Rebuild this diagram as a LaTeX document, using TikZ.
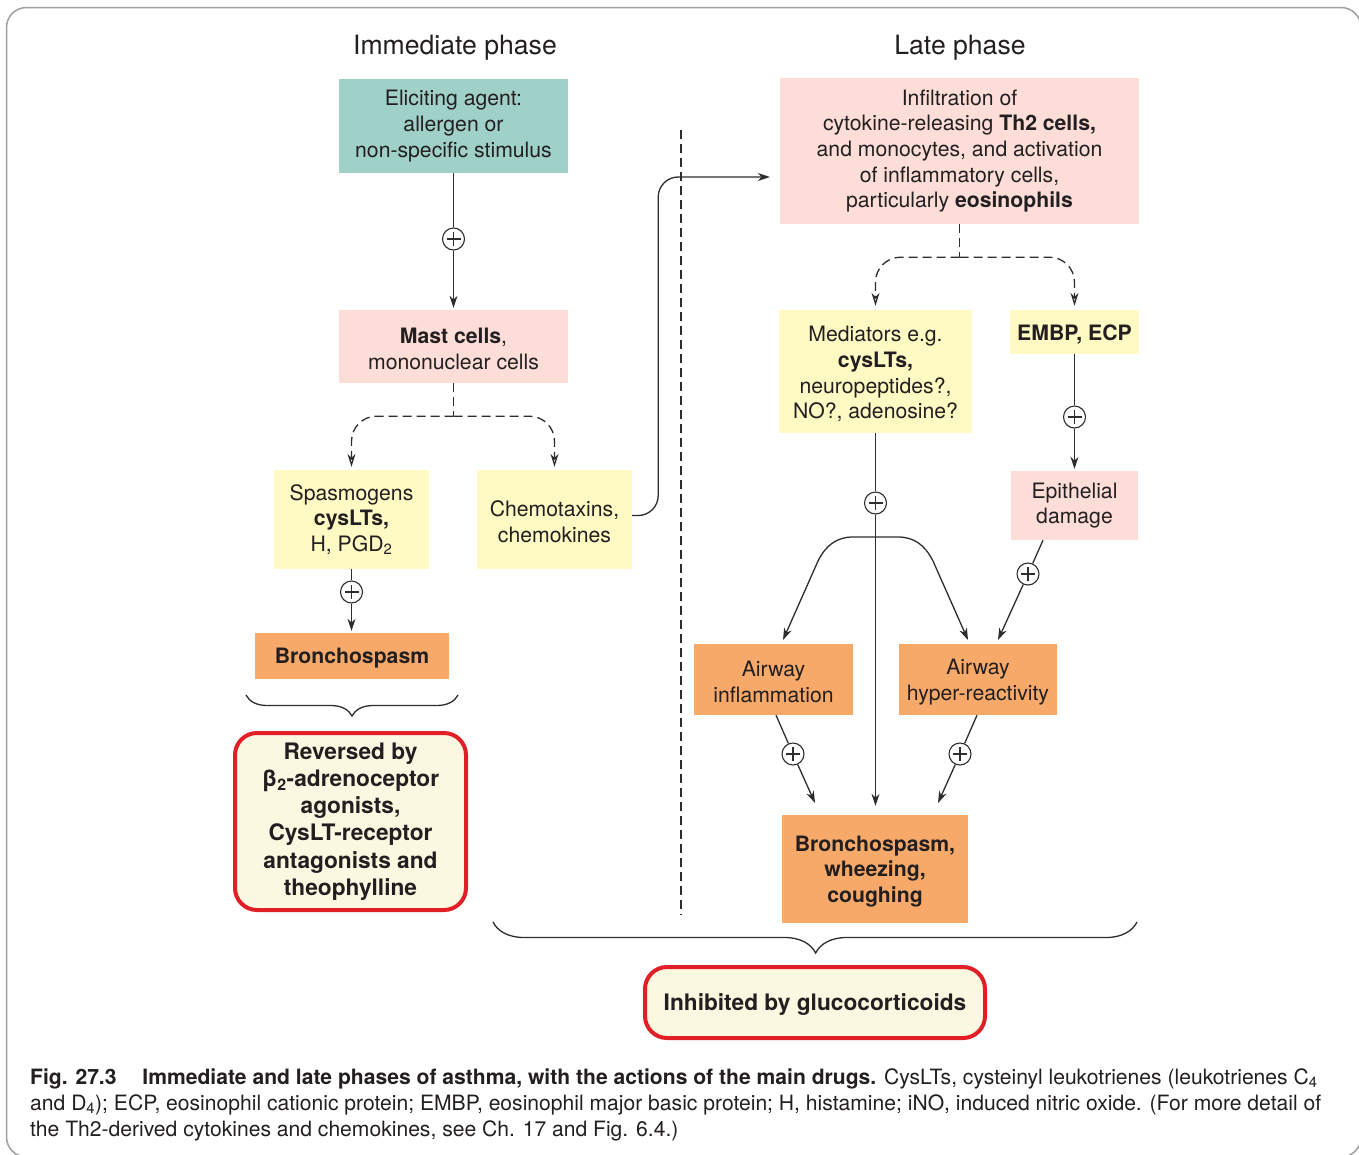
\documentclass[tikz,border=0pt]{standalone}
\usepackage{fontspec}
\setmainfont{TeX Gyre Heros}
\usetikzlibrary{arrows.meta,decorations.pathreplacing,calc}
\definecolor{tealbox}{RGB}{159,209,200}
\definecolor{pinkbox}{RGB}{252,221,216}
\definecolor{yellowbox}{RGB}{255,249,196}
\definecolor{orangebox}{RGB}{247,169,106}
\definecolor{creambox}{RGB}{250,248,225}
\definecolor{redline}{RGB}{226,30,38}
\definecolor{txt}{RGB}{35,31,32}
\definecolor{lncol}{RGB}{45,45,45}
\definecolor{framecol}{RGB}{160,160,160}
\newcommand{\dn}[1]{\raisebox{-2.5pt}[\height][\depth]{#1}}
\begin{document}
\begin{tikzpicture}[x=1pt,y=-1pt,
  box/.style={inner sep=0pt, align=center, text=txt, font=\fontsize{21.2}{25.7}\selectfont},
  tealb/.style={box, fill=tealbox},
  pinkb/.style={box, fill=pinkbox},
  yelb/.style={box, fill=yellowbox},
  orab/.style={box, fill=orangebox},
  redb/.style={inner sep=0pt, align=center, text=txt, draw=redline, line width=4pt, fill=creambox, rounded corners=22pt, font=\fontsize{22.7}{27.2}\selectfont\bfseries},
  titletxt/.style={text=txt, inner sep=0pt, font=\fontsize{26.6}{30}\selectfont, anchor=base},
  captxt/.style={text=txt, inner sep=0pt, anchor=base west, font=\fontsize{21.1}{26}\selectfont},
  pluss/.style={circle, draw=lncol, fill=white, line width=1.1pt, minimum size=22pt, inner sep=0pt,
    path picture={\draw[lncol, line width=1.3pt]
      ([yshift=-4pt]path picture bounding box.north) -- ([yshift=4pt]path picture bounding box.south)
      ([xshift=4pt]path picture bounding box.west) -- ([xshift=-4pt]path picture bounding box.east);}},
  plainln/.style={draw=lncol, line width=1.3pt},
  conn/.style={plainln, -{Stealth[length=12pt,width=8pt]}},
  dline/.style={plainln, dash pattern=on 9pt off 5pt},
  dconn/.style={dline, -{Stealth[open,length=13pt,width=8pt]}},
  bracestyle/.style={draw=lncol, line width=1.3pt, decorate}
]
\useasboundingbox (0,0) rectangle (1359,1154);
\draw[framecol, line width=1.5pt, rounded corners=20pt] (6.5,7.5) rectangle (1361,1157);

% titles
\node[titletxt] (t1) at (455,54) {Immediate phase};
\node[titletxt] (t2) at (960,54) {Late phase};

% divider
\coordinate (dvtop) at (681,130);
\coordinate (dvbot) at (681,915);
\draw[lncol, line width=1.2pt, dash pattern=on 9pt off 5pt] (dvtop) -- (dvbot);

% immediate phase boxes
\node[tealb, minimum width=229pt, minimum height=94pt] (elic) at (453.5,126)
  {Eliciting agent:\\allergen or\\non-specific stimulus};
\node[pinkb, minimum width=229pt, minimum height=73pt] (mast) at (453.5,346.5)
  {\dn{\textbf{Mast cells},}\\\dn{mononuclear cells}};
\node[yelb, minimum width=155pt, minimum height=99pt] (spasm) at (351.5,519.5)
  {Spasmogens\\\textbf{cysLTs,}\\H, PGD\textsubscript{2}};
\node[yelb, minimum width=155pt, minimum height=99pt] (chemo) at (554.5,519.5)
  {\dn{Chemotaxins,}\\\dn{chemokines}};
\node[orab, minimum width=194pt, minimum height=46pt] (bronchoL) at (352,656)
  {\dn{\textbf{Bronchospasm}}};
\node[redb, minimum width=231pt, minimum height=177pt] (rev) at (350.5,821.5)
  {Reversed by\\β\textsubscript{2}-adrenoceptor\\agonists,\\CysLT-receptor\\antagonists and\\theophylline};

% late phase boxes
\node[pinkb, minimum width=359pt, minimum height=146pt] (infil) at (959.5,151)
  {Infiltration of\\cytokine-releasing \textbf{Th2 cells,}\\and monocytes, and activation\\of inflammatory cells,\\particularly \textbf{eosinophils}};
\node[yelb, minimum width=193pt, minimum height=123pt] (medi) at (875.5,371.5)
  {\dn{Mediators e.g.}\\\dn{\textbf{cysLTs,}}\\\dn{neuropeptides?,}\\\dn{NO?, adenosine?}};
\node[yelb, minimum width=129pt, minimum height=44pt] (embp) at (1074.5,332)
  {\dn{\textbf{EMBP, ECP}}};
\node[pinkb, minimum width=127pt, minimum height=69pt] (epith) at (1074.5,505.5)
  {Epithelial\\damage};
\node[orab, minimum width=159pt, minimum height=71pt] (airinfl) at (773.5,679.5)
  {\dn{Airway}\\\dn{inflammation}};
\node[orab, minimum width=158pt, minimum height=71pt] (airhyp) at (978,679.5)
  {\dn{Airway}\\\dn{hyper-reactivity}};
\node[orab, minimum width=186pt, minimum height=108pt] (bronchoR) at (875,869)
  {\dn{\textbf{Bronchospasm,}}\\\dn{\textbf{wheezing,}}\\\dn{\textbf{coughing}}};
\node[redb, minimum width=340pt, minimum height=71pt] (inhib) at (815,1002.5)
  {\dn{Inhibited by glucocorticoids}};

% plus signs
\node[pluss] (p1) at (453.5,239) {};
\node[pluss] (p2) at (351.5,592) {};
\node[pluss] (p3) at (1074.5,417) {};
\node[pluss] (p4) at (875.5,503) {};
\node[pluss] (p5) at (1028,574) {};
\node[pluss] (p6) at (793,754) {};
\node[pluss] (p7) at (960,754) {};

% immediate phase connectors
\draw[plainln] (elic) -- (p1);
\draw[conn, shorten >=2pt] (p1) -- (mast);
\draw[dline] (mast.south) -- coordinate[pos=1] (mj) ++(0,33);
\draw[dconn, rounded corners=25pt, shorten >=3pt] (mj) -| (spasm.north);
\draw[dconn, rounded corners=25pt, shorten >=3pt] (mj) -| (chemo.north);
\draw[plainln] (spasm) -- (p2);
\draw[conn, shorten >=2pt] (p2) -- (p2 |- bronchoL.north);
\draw[conn, rounded corners=20pt, shorten >=10pt] ([yshift=4pt]chemo.east) -- ++(26,0) |- ([yshift=-26pt]infil.west);

% late phase connectors
\draw[dline] (infil.south) -- coordinate[pos=1] (ij) ++(0,33);
\draw[dconn, rounded corners=25pt, shorten >=4pt] (ij) -| (medi.north);
\draw[dconn, rounded corners=25pt, shorten >=4pt] (ij) -| (embp.north);
\draw[plainln] (embp) -- (p3);
\draw[conn, shorten >=2pt] (p3) -- (epith);
\draw[plainln] (medi) -- (p4);
\draw[conn, shorten >=9pt] (p4) -- (p4 |- bronchoR.north);
\coordinate (arch) at (875.5,537);
\coordinate (aL) at (783,640);
\coordinate (aR) at (968,640);
\draw[conn] (arch) -- (853,537) .. controls (837,537) and (826,545) .. (818,561) -- (aL);
\draw[conn] (arch) -- (898,537) .. controls (914,537) and (925,545) .. (933,561) -- (aR);
\coordinate (eS) at ([xshift=-31.5pt]epith.south);
\coordinate (eT) at (998,640);
\draw[plainln] (eS) -- (p5);
\draw[conn] (p5) -- (eT);
\coordinate (iS) at ([xshift=2.5pt]airinfl.south);
\coordinate (iT) at (815,803);
\draw[plainln] (iS) -- (p6);
\draw[conn] (p6) -- (iT);
\coordinate (hS) at ([xshift=-1pt]airhyp.south);
\coordinate (hT) at (938,803);
\draw[plainln] (hS) -- (p7);
\draw[conn] (p7) -- (hT);

% braces
\coordinate (bl1) at (458,695);
\coordinate (bl2) at (246,695);
\draw[bracestyle, decoration={brace, amplitude=21pt, aspect=0.5}] (bl1) -- (bl2);
\coordinate (br1) at (1137,922);
\coordinate (br2) at (493,922);
\draw[bracestyle, decoration={brace, amplitude=31pt, aspect=0.499}] (br1) -- (br2);

% caption
\node[captxt] (c1) at (30,1084) {\textbf{Fig. 27.3}\hspace{20pt} \textbf{Immediate and late phases of asthma, with the actions of the main drugs.} CysLTs, cysteinyl leukotrienes (leukotrienes C\textsubscript{4}};
\node[captxt] (c2) at (30,1110) {and D\textsubscript{4}); ECP, eosinophil cationic protein; EMBP, eosinophil major basic protein; H, histamine; iNO, induced nitric oxide. (For more detail of};
\node[captxt] (c3) at (30,1136) {the Th2-derived cytokines and chemokines, see Ch. 17 and Fig. 6.4.)};
\end{tikzpicture}
\end{document}
